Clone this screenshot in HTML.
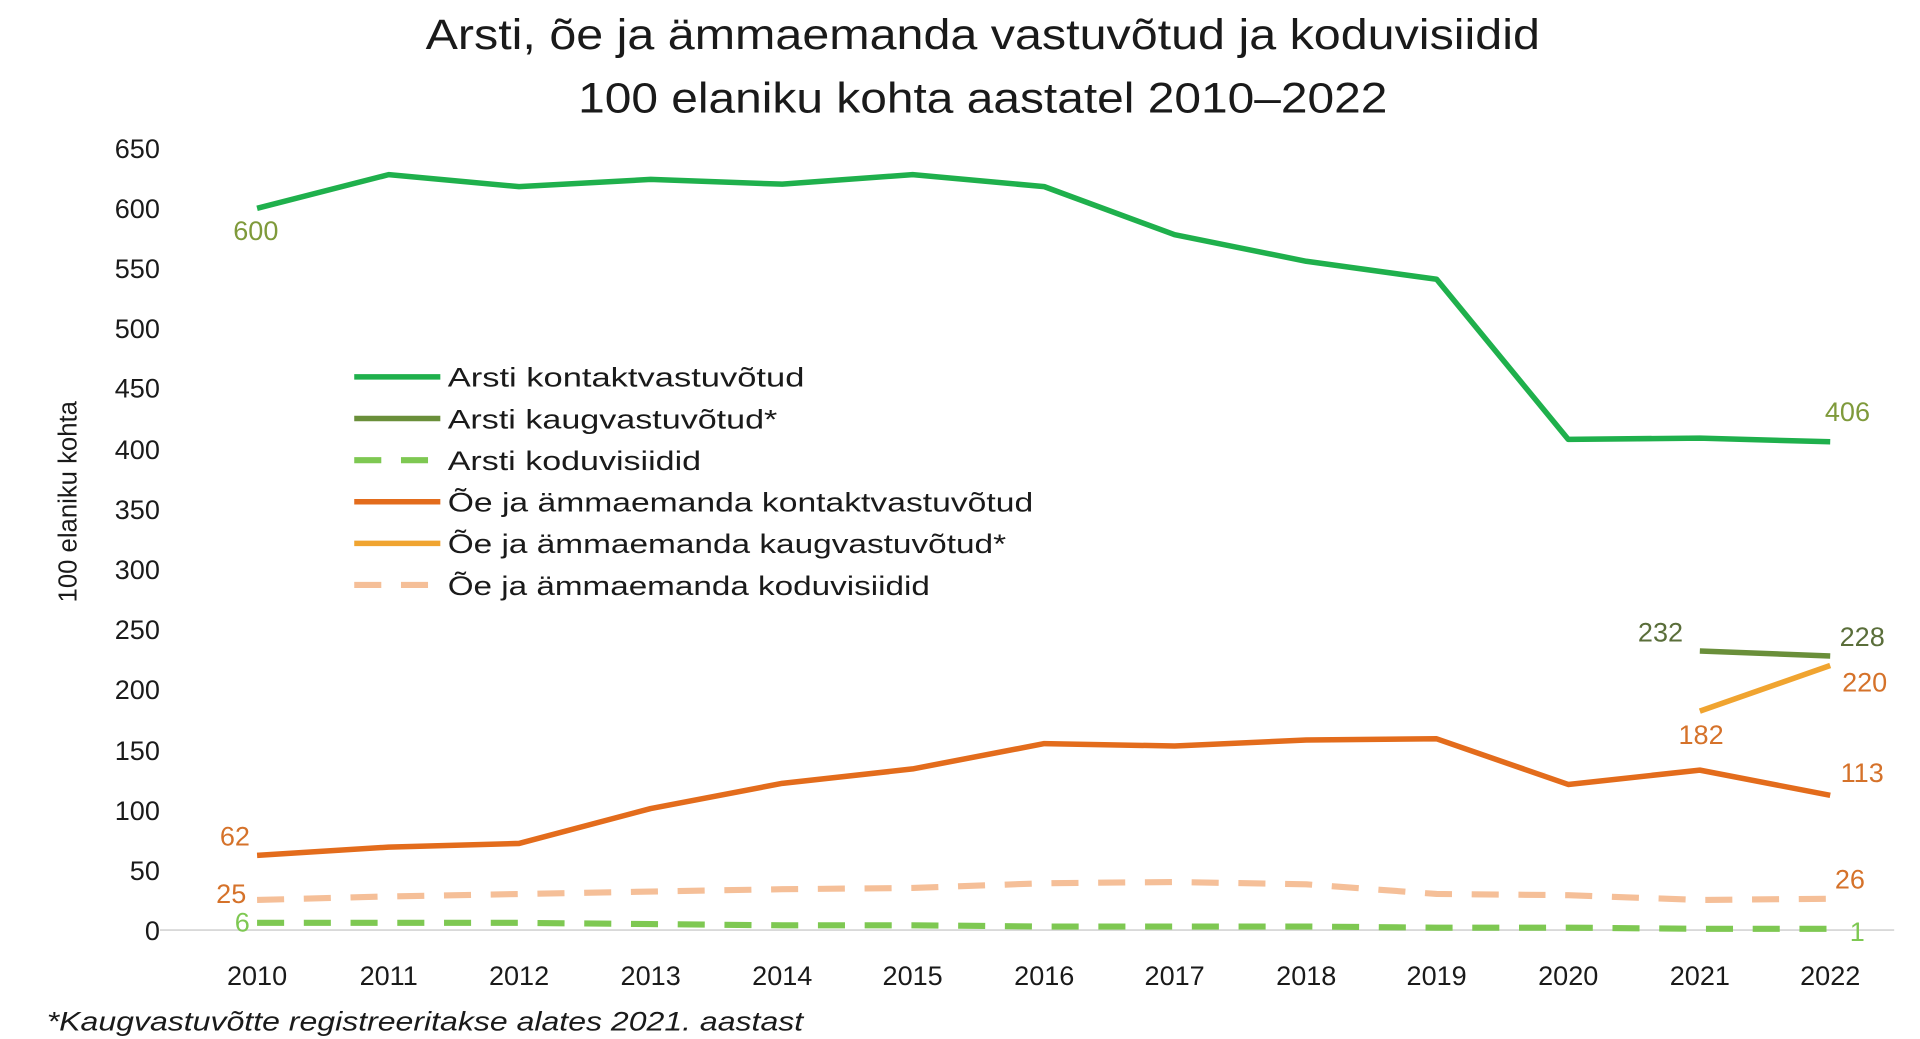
<!DOCTYPE html>
<html><head><meta charset="utf-8"><style>
html,body{margin:0;padding:0;background:#fff;width:1920px;height:1039px;overflow:hidden}
svg{display:block}
text{font-family:"Liberation Sans",sans-serif}
</style></head><body>
<svg width="1920" height="1039" viewBox="0 0 1561 849" preserveAspectRatio="none" xmlns="http://www.w3.org/2000/svg">
<rect width="1561" height="849" fill="#fff"/>
<text x="799" y="40" font-size="35" text-anchor="middle" fill="#1a1a1a" textLength="906" lengthAdjust="spacingAndGlyphs">Arsti, õe ja ämmaemanda vastuvõtud ja koduvisiidid</text>
<text x="799" y="92" font-size="35" text-anchor="middle" fill="#1a1a1a" textLength="658" lengthAdjust="spacingAndGlyphs">100 elaniku kohta aastatel 2010–2022</text>
<g font-size="22" fill="#1a1a1a" text-anchor="end">
<text x="130" y="768">0</text><text x="130" y="719">50</text><text x="130" y="670">100</text><text x="130" y="621">150</text><text x="130" y="571">200</text><text x="130" y="522">250</text><text x="130" y="473">300</text><text x="130" y="424">350</text><text x="130" y="375">400</text><text x="130" y="325">450</text><text x="130" y="276">500</text><text x="130" y="227">550</text><text x="130" y="178">600</text><text x="130" y="129">650</text>
</g>
<text transform="translate(62,410) rotate(-90)" font-size="21" text-anchor="middle" fill="#1a1a1a">100 elaniku kohta</text>
<line x1="130" y1="760" x2="1540" y2="760" stroke="#d9d9d9" stroke-width="1.5"/>
<g font-size="22" fill="#1a1a1a" text-anchor="middle">
<text x="209" y="805">2010</text><text x="316" y="805">2011</text><text x="422" y="805">2012</text><text x="529" y="805">2013</text><text x="636" y="805">2014</text><text x="742" y="805">2015</text><text x="849" y="805">2016</text><text x="955" y="805">2017</text><text x="1062" y="805">2018</text><text x="1168" y="805">2019</text><text x="1275" y="805">2020</text><text x="1382" y="805">2021</text><text x="1488" y="805">2022</text>
</g>
<text x="38" y="842" font-size="22" font-style="italic" fill="#1a1a1a" textLength="615" lengthAdjust="spacingAndGlyphs">*Kaugvastuvõtte registreeritakse alates 2021. aastast</text>
<g fill="none" stroke-linejoin="round" stroke-linecap="butt">
<polyline stroke="#7ec852" stroke-width="5" stroke-dasharray="22,16" points="209,754.1 316,754.1 422,754.1 529,755.1 636,756.1 742,756.1 849,757.1 955,757.1 1062,757.1 1168,758 1275,758 1382,759 1488,759"/>
<polyline stroke="#f5bf98" stroke-width="5" stroke-dasharray="22,16" points="209,735.4 316,732.5 422,730.5 529,728.5 636,726.6 742,725.6 849,721.7 955,720.7 1062,722.6 1168,730.5 1275,731.5 1382,735.4 1488,734.4"/>
<polyline stroke="#e36c1c" stroke-width="4.5" points="209,699 316,692.2 422,689.2 529,660.7 636,640.1 742,628.3 849,607.6 955,609.6 1062,604.7 1168,603.7 1275,641 1382,629.3 1488,649.9"/>
<polyline stroke="#1fb04c" stroke-width="4.5" points="209,170.2 316,142.7 422,152.5 529,146.6 636,150.5 742,142.7 849,152.5 955,191.8 1062,213.5 1168,228.2 1275,359 1382,358 1488,361"/>
<polyline stroke="#6a8f3a" stroke-width="4.5" points="1382,532 1488,536"/>
<polyline stroke="#f0a430" stroke-width="4.5" points="1382,581.1 1488,543.8"/>
</g>
<g font-size="22">
<text x="208" y="196" fill="#7f9a3b" text-anchor="middle">600</text>
<text x="1502" y="344" fill="#7f9a3b" text-anchor="middle">406</text>
<text x="1350" y="524" fill="#5a6e3a" text-anchor="middle">232</text>
<text x="1514" y="528" fill="#5a6e3a" text-anchor="middle">228</text>
<text x="1516" y="565" fill="#d5722a" text-anchor="middle">220</text>
<text x="1383" y="608" fill="#d5722a" text-anchor="middle">182</text>
<text x="1514" y="639" fill="#d5722a" text-anchor="middle">113</text>
<text x="191" y="691" fill="#d5722a" text-anchor="middle">62</text>
<text x="188" y="738" fill="#d5722a" text-anchor="middle">25</text>
<text x="1504" y="726" fill="#d5722a" text-anchor="middle">26</text>
<text x="197" y="761" fill="#7ec852" text-anchor="middle">6</text>
<text x="1510" y="769" fill="#7ec852" text-anchor="middle">1</text>
</g>
<g stroke-width="4.5">
<line x1="288" y1="308" x2="358" y2="308" stroke="#1fb04c"/>
<line x1="288" y1="342" x2="358" y2="342" stroke="#6a8f3a"/>
<line x1="288" y1="376" x2="358" y2="376" stroke="#7ec852" stroke-width="5" stroke-dasharray="22,16"/>
<line x1="288" y1="410" x2="358" y2="410" stroke="#e36c1c"/>
<line x1="288" y1="444" x2="358" y2="444" stroke="#f0a430"/>
<line x1="288" y1="478" x2="358" y2="478" stroke="#f5bf98" stroke-width="5" stroke-dasharray="22,16"/>
</g>
<g font-size="22" fill="#1a1a1a">
<text x="364" y="316" textLength="290" lengthAdjust="spacingAndGlyphs">Arsti kontaktvastuvõtud</text>
<text x="364" y="350" textLength="268" lengthAdjust="spacingAndGlyphs">Arsti kaugvastuvõtud*</text>
<text x="364" y="384" textLength="206" lengthAdjust="spacingAndGlyphs">Arsti koduvisiidid</text>
<text x="364" y="418" textLength="476" lengthAdjust="spacingAndGlyphs">Õe ja ämmaemanda kontaktvastuvõtud</text>
<text x="364" y="452" textLength="454" lengthAdjust="spacingAndGlyphs">Õe ja ämmaemanda kaugvastuvõtud*</text>
<text x="364" y="486" textLength="392" lengthAdjust="spacingAndGlyphs">Õe ja ämmaemanda koduvisiidid</text>
</g>
</svg>
</body></html>
